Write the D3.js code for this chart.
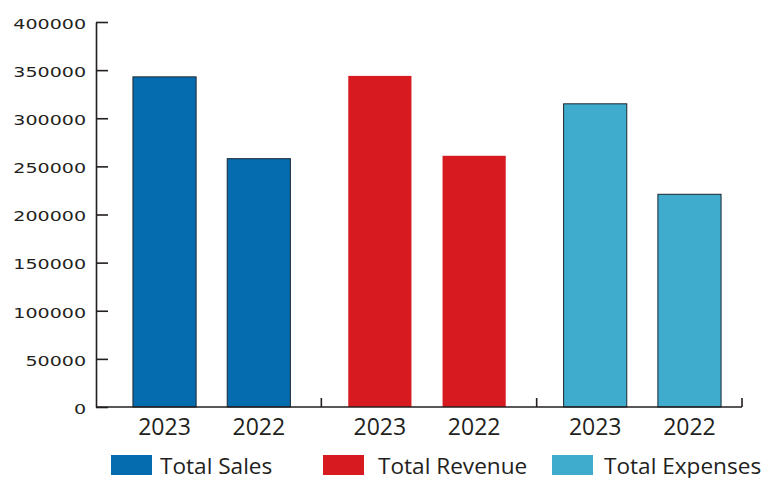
<!DOCTYPE html>
<html>
<head>
<meta charset="utf-8">
<script src="https://cdn.jsdelivr.net/npm/d3@7/dist/d3.min.js"></script>
<style>
  html, body { margin: 0; padding: 0; background: #fff; }
  svg { display: block; }
</style>
</head>
<body>
<script>
// ---- data ----
const groups = ["Total Sales", "Total Revenue", "Total Expenses"];
const years = ["2023", "2022"];
const salesValues = [343000, 258000];
const revenueValues = [344000, 261000];
const expensesValues = [315000, 221000];
const yTicks = [0, 50000, 100000, 150000, 200000, 250000, 300000, 350000, 400000];
const colors = ["#066cb0", "#d71920", "#3facce"];

const seriesValues = [salesValues, revenueValues, expensesValues];
const rows = [];
groups.forEach((g, gi) => years.forEach((yr, yi) => rows.push({ group: g, year: yr, value: seriesValues[gi][yi], gi })));

// ---- layout ----
const W = 763, H = 478;
const axisX = 96, baseY = 407, topY = 22;
const textColor = "#231f20";
const axisColor = "#231f20";

const svg = d3.select("body").append("svg").attr("width", W).attr("height", H);

const y = d3.scaleLinear().domain([0, 400000]).range([baseY, topY]);
const x0 = d3.scaleBand().domain(groups).range([104, 750]).paddingInner(0).paddingOuter(0);
const x1 = d3.scaleBand().domain(years).range([0, x0.bandwidth()]).paddingInner(0.33).paddingOuter(0.307);

// bars
svg.append("g").selectAll("rect").data(rows).join("rect")
  .attr("x", d => x0(d.group) + x1(d.year))
  .attr("y", d => y(d.value))
  .attr("width", x1.bandwidth())
  .attr("height", d => y(0) - y(d.value))
  .attr("fill", d => colors[d.gi])
  .attr("stroke", d => d.gi === 1 ? "none" : "#1c2630")
  .attr("stroke-width", 1);

// y axis
const yAxis = d3.axisLeft(y).tickValues(yTicks).tickFormat(d3.format("d"))
  .tickSizeInner(-12).tickSizeOuter(0).tickPadding(10);
const gy = svg.append("g").attr("transform", `translate(${axisX},0)`).call(yAxis);
gy.select(".domain").attr("stroke", axisColor).attr("stroke-width", 1.6);
gy.selectAll(".tick line").attr("stroke", axisColor).attr("stroke-width", 1.6);
const sx = 1.36;
gy.selectAll(".tick text")
  .attr("font-family", "DejaVu Sans, sans-serif")
  .attr("font-size", 14)
  .attr("fill", textColor)
  .attr("x", -10 / sx)
  .attr("dy", "0.45em")
  .attr("transform", `scale(${sx},1)`);

// x axis line with separators at group edges
const gx = svg.append("g");
const lastEdge = x0(groups[groups.length - 1]) + x0.bandwidth();
gx.append("line").attr("x1", axisX).attr("x2", lastEdge - 8)
  .attr("y1", y(0)).attr("y2", y(0))
  .attr("stroke", axisColor).attr("stroke-width", 1.6);
gx.selectAll("line.sep").data(groups).join("line").attr("class", "sep")
  .attr("x1", (d, i) => x0(d) + x0.bandwidth() + (i === groups.length - 1 ? -8 : 2))
  .attr("x2", (d, i) => x0(d) + x0.bandwidth() + (i === groups.length - 1 ? -8 : 2))
  .attr("y1", y(0)).attr("y2", y(0) - 9)
  .attr("stroke", axisColor).attr("stroke-width", 1.6);

// x labels
svg.append("g").selectAll("text").data(rows).join("text")
  .attr("x", d => x0(d.group) + x1(d.year) + x1.bandwidth() / 2)
  .attr("y", baseY + 28)
  .attr("text-anchor", "middle")
  .attr("font-family", "Open Sans, sans-serif")
  .attr("font-size", 23)
  .attr("fill", textColor)
  .text(d => d.year);

// legend
const legendX = [111, 323, 552];
const lg = svg.append("g").selectAll("g").data(groups).join("g")
  .attr("transform", (d, i) => `translate(${legendX[i]},455)`);
lg.append("rect").attr("width", 41).attr("height", 20).attr("fill", (d, i) => colors[i]);
lg.append("text").attr("x", (d, i) => i === 0 ? 49 : (i === 1 ? 55 : 52)).attr("y", 19)
  .attr("font-family", "Open Sans, sans-serif").attr("font-size", 22.6)
  .attr("fill", textColor).text(d => d);
</script>
</body>
</html>
